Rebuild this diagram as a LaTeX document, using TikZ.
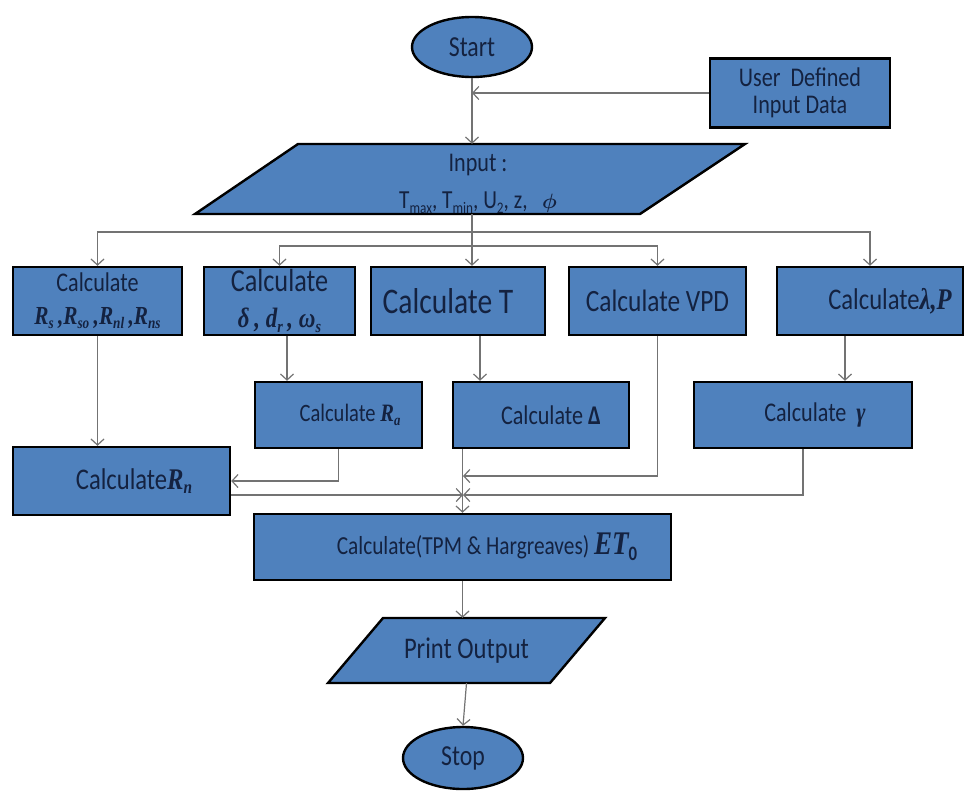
\documentclass[tikz,border=0pt]{standalone}
\usepackage{fontspec}
\usepackage{bm}
\setmainfont[FakeStretch=0.82]{Carlito}
\newfontfamily\tms[FakeStretch=0.82]{Liberation Serif}
\usetikzlibrary{arrows.meta,shapes.geometric}
\definecolor{boxblue}{RGB}{79,129,189}
\definecolor{txt}{RGB}{20,34,64}
\definecolor{conn}{RGB}{115,115,115}
\newcommand\fs[2]{\fontsize{#1}{#2}\selectfont}
\newcommand\mb[1]{{\tms\bfseries\itshape #1}}
\newcommand\lsub[1]{\raisebox{-0.35ex}{\scalebox{0.62}{#1}}}
\tikzset{
  box/.style={rectangle, draw=black, fill=boxblue, line width=2.4pt, text=txt, inner sep=0pt, align=center},
  term/.style={box, ellipse},
  ghost/.style={rectangle, inner sep=0pt, text=txt, align=center},
  para/.style={draw=black, fill=boxblue, line width=2.4pt, line join=miter},
  conn/.style={draw=conn, line width=1.2pt, -{Straight Barb[length=6pt,width=13pt,line width=1.2pt]}},
}
\begin{document}
\begin{tikzpicture}[x=1pt,y=-1pt]
\useasboundingbox (0,0) rectangle (973,796);
\fill[white] (0,0) rectangle (973,796);

% terminals and input boxes
\node[term, minimum width=120pt, minimum height=60pt, font=\fs{29}{32}] (start) at (472,47) {Start};
\node[box, minimum width=180pt, minimum height=69pt, font=\fs{27}{27}] (user) at (800,93) {User\ \ Defined\\Input Data};

\draw[para] (298,144) -- (745,144) -- (640,214) -- (195,214) -- cycle;
\node[ghost, minimum width=340pt, minimum height=70pt] (inp) at (472,179) {};
\node[ghost, font=\fs{26}{37}] (inptxt) at (478,184) {{\fs{27}{37}Input :}\\T\lsub{max}, T\lsub{min}, U\lsub{2}, z,\ \ \ {\fs{22}{37}$\bm{\phi}$}};

% row 1
\node[box, minimum width=169pt, minimum height=68pt, font=\fs{27}{33}] (b1) at (97.5,301) {Calculate\\{\fs{26}{33}\mb{R\lsub{s}\,,R\lsub{so}\,,R\lsub{nl}\,,R\lsub{ns}}}};
\node[box, minimum width=151pt, minimum height=68pt, font=\fs{32}{36}] (b2) at (279.5,301) {Calculate\\{\fs{28}{36}\mb{δ\,, d\lsub{r}\,, ω\lsub{s}}}};
\node[box, minimum width=174pt, minimum height=68pt, font=\fs{36}{38}] (b3) at (458,301) {Calculate T\hspace*{20pt}};
\node[box, minimum width=177pt, minimum height=68pt, font=\fs{31}{34}] (b4) at (657.5,301) {Calculate VPD};
\node[box, minimum width=186pt, minimum height=68pt, font=\fs{30}{34}] (b5) at (870,301) {\hspace*{40pt}Calculate\mb{λ,P}};

% row 2
\node[box, minimum width=167pt, minimum height=66pt, font=\fs{25}{30}] (ra) at (338.5,415) {\hspace*{23pt}Calculate \mb{R\lsub{a}}};
\node[box, minimum width=176pt, minimum height=66pt, font=\fs{27}{30}] (delta) at (541,415) {\hspace*{20pt}Calculate {\bfseries Δ}};
\node[box, minimum width=218pt, minimum height=66pt, font=\fs{27}{30}] (gamma) at (803,415) {\hspace*{24pt}Calculate\ \ \mb{γ}};
\node[box, minimum width=217pt, minimum height=68pt, font=\fs{30}{34}] (rn) at (121.5,481) {\hspace*{25pt}Calculate\mb{R\lsub{n}}};

% ET0
\node[box, minimum width=417pt, minimum height=66pt, font=\fs{26}{30}] (et) at (462.5,547) {\hspace*{49pt}Calculate(TPM \& Hargreaves) {\fs{33}{34}\mb{ET}\lsub{\bfseries 0}}};

% print output and stop
\draw[para] (383,618) -- (605,618) -- (550,683) -- (328,683) -- cycle;
\node[ghost, minimum width=200pt, minimum height=65pt, font=\fs{30}{34}] (pr) at (466.5,650.5) {Print Output};
\node[term, minimum width=120pt, minimum height=62pt, font=\fs{29}{32}] (stop) at (463,758) {Stop};

% junction points
\coordinate (fo) at (472,232);
\coordinate (fi) at (472,246);
\coordinate (jv) at (463,476);
\coordinate (jx) at (463,495);

% connectors
\draw[conn] (user.west) -- (start.south |- user.west);
\draw[conn] (start.south) -- (inp.north);
\draw[conn] (inp.south) -- (inp.south |- b3.north);
\draw[conn] (fo) -| (b1.north);
\draw[conn] (fo) -| (b5.north);
\draw[conn] (fi) -| (b2.north);
\draw[conn] (fi) -| (b4.north);

\draw[conn] (b1.south) -- (b1.south |- rn.north);
\draw[conn] ([xshift=7.5pt]b2.south) -- ([xshift=7.5pt]b2.south |- ra.north);
\draw[conn] ([xshift=22pt]b3.south) -- ([xshift=22pt]b3.south |- delta.north);
\draw[conn] ([xshift=-25pt]b5.south) -- ([xshift=-25pt]b5.south |- gamma.north);
\draw[conn] (b4.south) |- (jv);

\draw[conn] (ra.south) |- (rn.east);
\draw[conn] (et.north |- delta.south) -- (et.north);
\draw[conn] (rn.east |- jx) -- (jx);
\draw[conn] (gamma.south) |- (jx);

\draw[conn] (et.south) -- (et.south |- pr.north);
\draw[conn] (pr.south) -- (stop.north);
\end{tikzpicture}
\end{document}
